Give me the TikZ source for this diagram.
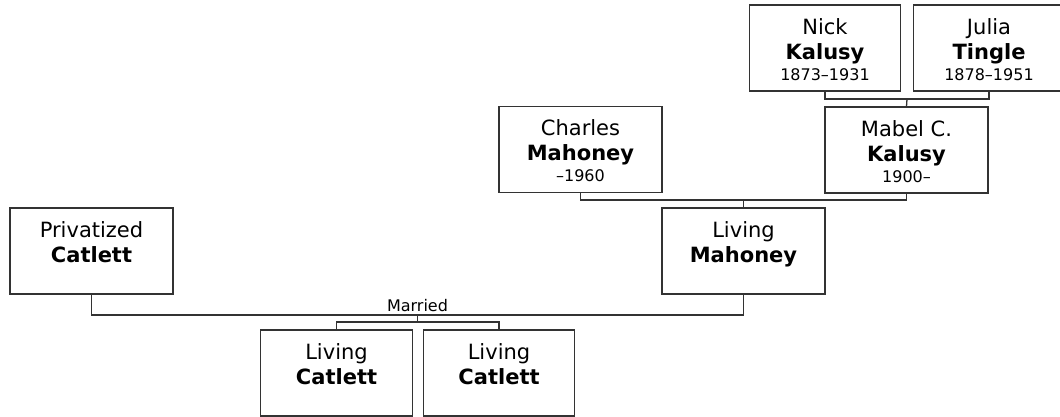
\documentclass[tikz,border=0pt]{standalone}
\usepackage{fontspec}
\setmainfont{DejaVu Sans}
\begin{document}
\begin{tikzpicture}[x=1pt,y=-1pt,
  person/.style={draw=black!80,line width=1.3pt,fill=white,rectangle,inner sep=0pt,minimum height=86pt},
  wide/.style={person,minimum width=163pt},
  narrow/.style={person,minimum width=151.5pt},
  first/.style={anchor=base,inner sep=0pt,font=\fontsize{21}{25}\selectfont},
  last/.style={anchor=base,inner sep=0pt,font=\fontsize{21}{25}\selectfont\bfseries},
  years/.style={anchor=base,inner sep=0pt,font=\fontsize{16}{19}\selectfont},
  conn/.style={draw=black!80,line width=1.3pt},
  mlabel/.style={anchor=base,inner sep=0pt,font=\fontsize{16}{19}\selectfont}
]
\useasboundingbox (0,0) rectangle (1060,416);
\clip (0,0) rectangle (1060,416);
% boxes (centres)
\node[narrow] (nick) at (825,48) {};
\node[narrow] (julia) at (989,48) {};
\node[wide] (mabel) at (906.5,150) {};
\node[wide] (charles) at (580.5,149.5) {};
\node[wide] (lmah) at (743.5,251) {};
\node[wide] (priv) at (91.5,251) {};
\node[narrow] (c1) at (336.5,373) {};
\node[narrow] (c2) at (499,373) {};
% connectors
\coordinate (nj) at (907,99);
\coordinate (cm) at (743.5,200);
\coordinate (pl) at (417.5,315);
\coordinate (kids) at (417.5,322);
\draw[conn] (nick.south) |- (nj) -| (julia.south);
\draw[conn] (nj) -- (mabel.north);
\draw[conn] (charles.south) |- (cm) -| (mabel.south);
\draw[conn] (cm) -- (lmah.north);
\draw[conn] (priv.south) |- (pl) -| (lmah.south);
\draw[conn] (pl) -- (kids);
\draw[conn] (c1.north) |- (kids) -| (c2.north);
\node[mlabel] (married) at (417.5,311) {Married};
% texts
\node[first] (nick1) at ([yshift=-30]nick.north) {Nick};
\node[last] (nick2) at ([yshift=-55]nick.north) {Kalusy};
\node[years] (nick3) at ([yshift=-76]nick.north) {1873–1931};
\node[first] (julia1) at ([yshift=-30]julia.north) {Julia};
\node[last] (julia2) at ([yshift=-55]julia.north) {Tingle};
\node[years] (julia3) at ([yshift=-76]julia.north) {1878–1951};
\node[first] (mabel1) at ([yshift=-30]mabel.north) {Mabel C.};
\node[last] (mabel2) at ([yshift=-55]mabel.north) {Kalusy};
\node[years] (mabel3) at ([yshift=-76]mabel.north) {1900–};
\node[first] (charles1) at ([yshift=-30]charles.north) {Charles};
\node[last] (charles2) at ([yshift=-55]charles.north) {Mahoney};
\node[years] (charles3) at ([yshift=-76]charles.north) {–1960};
\node[first] (lmah1) at ([yshift=-30]lmah.north) {Living};
\node[last] (lmah2) at ([yshift=-55]lmah.north) {Mahoney};
\node[first] (priv1) at ([yshift=-30]priv.north) {Privatized};
\node[last] (priv2) at ([yshift=-55]priv.north) {Catlett};
\node[first] (c11) at ([yshift=-30]c1.north) {Living};
\node[last] (c12) at ([yshift=-55]c1.north) {Catlett};
\node[first] (c21) at ([yshift=-30]c2.north) {Living};
\node[last] (c22) at ([yshift=-55]c2.north) {Catlett};
\end{tikzpicture}
\end{document}
